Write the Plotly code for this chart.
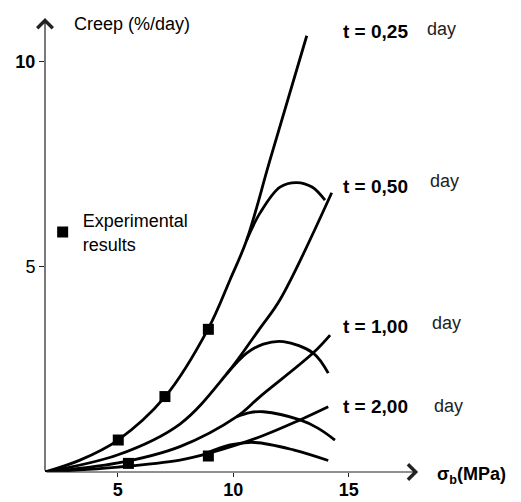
import plotly.graph_objects as go

# ---- data (x: sigma_b in MPa, y: creep in %/day) ----
t025_x = [1.85, 3.36, 5.01, 7.04, 8.91, 9.86, 10.58, 11.59, 13.18]
t025_y = [0.0, 0.29, 0.78, 1.83, 3.49, 4.69, 5.66, 7.61, 10.64]
t025_hump_x = [10.58, 11.16, 12.02, 12.75, 13.41, 13.97]
t025_hump_y = [5.66, 6.32, 6.95, 7.06, 6.95, 6.63]

t050_x = [1.85, 5.01, 7.69, 9.71, 11.16, 12.02, 14.26]
t050_y = [0.0, 0.42, 1.17, 2.39, 3.51, 4.20, 6.81]
t050_hump_x = [9.71, 10.58, 11.30, 12.17, 13.46, 14.11]
t050_hump_y = [2.39, 2.90, 3.12, 3.18, 2.90, 2.41]

t100_x = [1.85, 5.01, 7.69, 10.15, 11.16, 13.45, 14.19]
t100_y = [0.0, 0.22, 0.62, 1.35, 1.84, 2.90, 3.34]
t100_hump_x = [10.15, 10.72, 11.30, 12.89, 13.66, 14.40]
t100_hump_y = [1.35, 1.45, 1.47, 1.27, 1.07, 0.78]

t200_x = [1.85, 5.01, 7.69, 8.95, 11.16, 12.89, 14.11]
t200_y = [0.0, 0.12, 0.29, 0.46, 0.86, 1.27, 1.59]
t200_hump_x = [8.85, 9.86, 10.94, 12.60, 14.11]
t200_hump_y = [0.46, 0.66, 0.72, 0.54, 0.28]

exp_x = [5.02, 7.04, 8.92, 5.46, 8.92]
exp_y = [0.78, 1.84, 3.48, 0.21, 0.39]

x_ticks = [5, 10, 15]
x_tick_text = ["<b>5</b>", "<b>10</b>", "<b>15</b>"]
y_ticks = [5, 10]
y_tick_text = ["5", "<b>10</b>"]
t_labels = ["t = 0,25", "t = 0,50", "t = 1,00", "t = 2,00"]
unit_label = "day"
legend_label = "Experimental<br>results"
y_title = "Creep (%/day)"
x_title = "<b>σ<sub>b</sub>(MPa)</b>"

FONT = "Liberation Sans, Arial, sans-serif"
LINE = dict(color="black", width=2.8, shape="spline", smoothing=1.0)

fig = go.Figure()
curves = [
    (t025_x, t025_y), (t025_hump_x, t025_hump_y),
    (t050_x, t050_y), (t050_hump_x, t050_hump_y),
    (t100_x, t100_y), (t100_hump_x, t100_hump_y),
    (t200_x, t200_y), (t200_hump_x, t200_hump_y),
]
for cx, cy in curves:
    fig.add_trace(go.Scatter(x=cx, y=cy, mode="lines", line=LINE,
                             showlegend=False, hoverinfo="skip"))

fig.add_trace(go.Scatter(x=exp_x, y=exp_y, mode="markers",
                         marker=dict(symbol="square", size=11, color="black"),
                         name=legend_label, showlegend=True))

# axis arrows
X0, XEND, YEND = 1.848, 18.0, 11.07
fig.add_annotation(x=XEND, y=0, ax=X0, ay=0, xref="x", yref="y", axref="x", ayref="y",
                   text="", showarrow=True, arrowhead=4, arrowsize=2.5,
                   arrowwidth=1.2, arrowcolor="#222")
fig.add_annotation(x=X0, y=YEND, ax=X0, ay=0, xref="x", yref="y", axref="x", ayref="y",
                   text="", showarrow=True, arrowhead=4, arrowsize=2.5,
                   arrowwidth=1.2, arrowcolor="#222")

# texts
fig.add_annotation(x=3.0, y=10.93, xref="x", yref="y", text=y_title, showarrow=False,
                   xanchor="left", yanchor="middle", font=dict(size=18, color="black", family=FONT))
fig.add_annotation(x=18.75, y=-0.0065, xref="x", yref="paper", text=x_title, showarrow=False,
                   xanchor="left", yanchor="middle", font=dict(size=18, color="black", family=FONT))

t_pos = [(14.65, 10.744), (14.65, 6.959), (14.67, 3.561), (14.67, 1.593)]
d_pos = [(18.30, 10.805), (18.45, 7.098), (18.52, 3.634), (18.58, 1.610)]
for lab, (tx, ty), (dx, dy) in zip(t_labels, t_pos, d_pos):
    fig.add_annotation(x=tx, y=ty, xref="x", yref="y", text="<b>" + lab + "</b>",
                       showarrow=False, xanchor="left", yanchor="middle",
                       font=dict(size=19, color="black", family=FONT))
    fig.add_annotation(x=dx, y=dy, xref="x", yref="y", text=unit_label, showarrow=False,
                       xanchor="left", yanchor="middle",
                       font=dict(size=18, color="#222", family=FONT))

# the page body has an 8 px margin, so the figure is 8 px smaller than the window
fig.update_layout(
    width=513, height=494, autosize=False,
    margin=dict(l=37, r=6, t=2, b=30, autoexpand=False),
    paper_bgcolor="white", plot_bgcolor="white",
    font=dict(family=FONT, color="black"),
    showlegend=True,
    legend=dict(x=-0.005, y=0.519, xanchor="left", yanchor="middle",
                bgcolor="rgba(0,0,0,0)", font=dict(size=18, color="black", family=FONT),
                itemwidth=30),
    xaxis=dict(range=[X0, 22.195], tickvals=x_ticks, ticktext=x_tick_text,
               ticks="outside", ticklen=4,
               tickcolor="#222", showgrid=False, zeroline=False, showline=False,
               automargin=False, ticklabelstandoff=-3,
               tickfont=dict(size=18, color="black", family=FONT)),
    yaxis=dict(range=[0, 11.268], tickvals=y_ticks, ticktext=y_tick_text,
               ticks="outside", ticklen=5,
               tickcolor="#222", showgrid=False, zeroline=False, showline=False,
               automargin=False,
               tickfont=dict(size=18, color="black", family=FONT)),
)

fig.write_html("out.html")
